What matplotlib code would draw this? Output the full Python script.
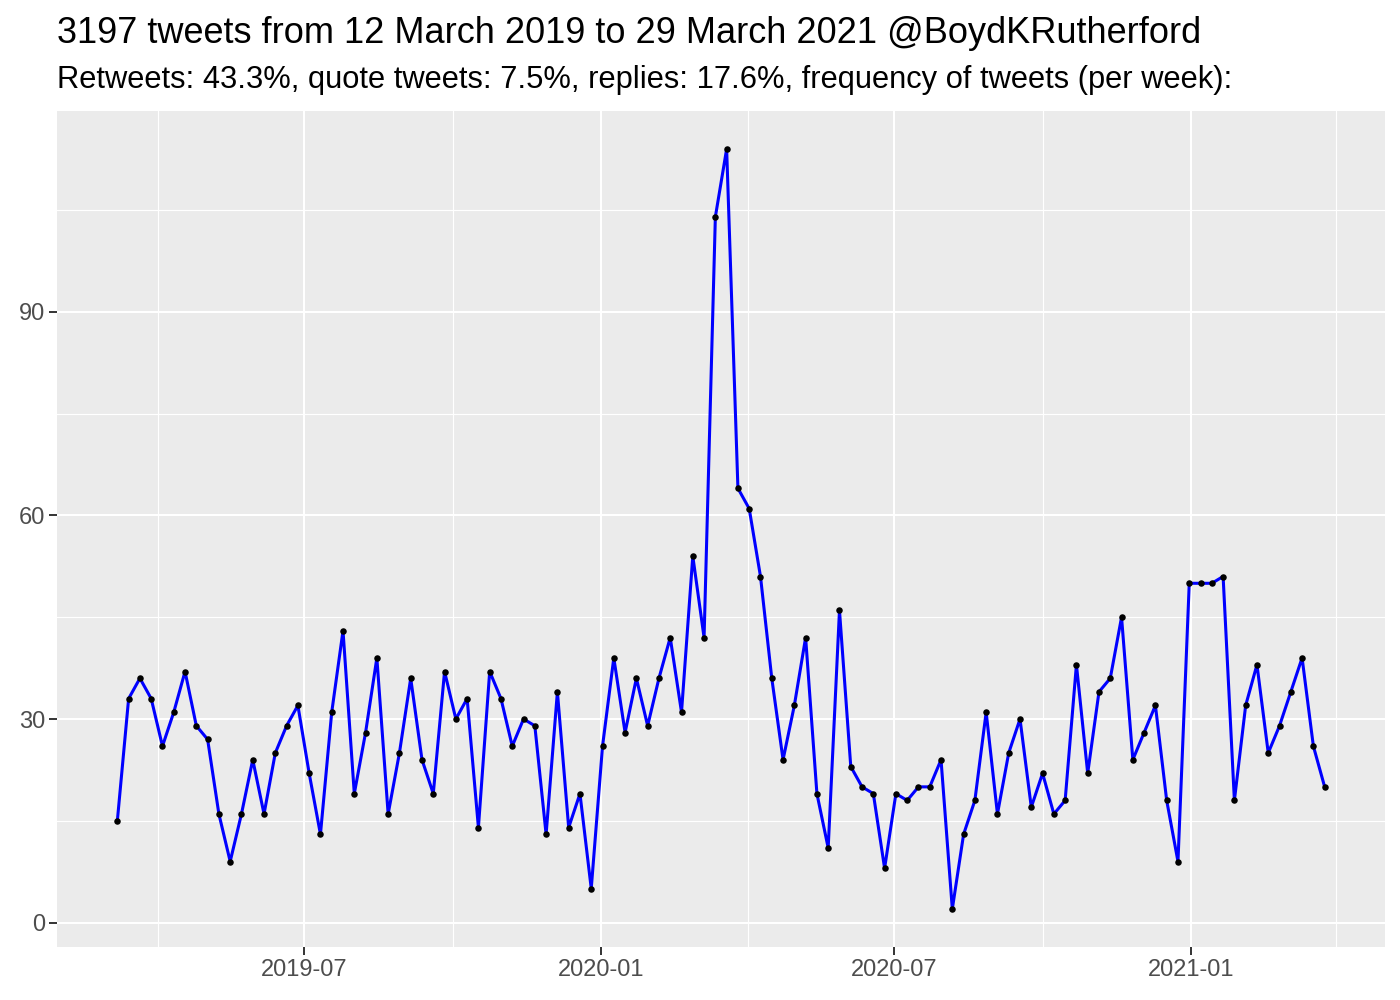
import numpy as np
import matplotlib
matplotlib.use("Agg")
import matplotlib.pyplot as plt
import matplotlib.dates as mdates

plt.rcParams['font.family'] = ['Liberation Sans', 'DejaVu Sans']

# weekly tweet counts, weeks starting 2019-03-07
start_date = '2019-03-07'
counts = [15, 33, 36, 33, 26, 31, 37, 29, 27, 16,
          9, 16, 24, 16, 25, 29, 32, 22, 13, 31,
          43, 19, 28, 39, 16, 25, 36, 24, 19, 37,
          30, 33, 14, 37, 33, 26, 30, 29, 13, 34,
          14, 19, 5, 26, 39, 28, 36, 29, 36, 42,
          31, 54, 42, 104, 114, 64, 61, 51, 36, 24,
          32, 42, 19, 11, 46, 23, 20, 19, 8, 19,
          18, 20, 20, 24, 2, 13, 18, 31, 16, 25,
          30, 17, 22, 16, 18, 38, 22, 34, 36, 45,
          24, 28, 32, 18, 9, 50, 50, 50, 51, 18,
          32, 38, 25, 29, 34, 39, 26, 20]
weeks = np.datetime64(start_date) + np.arange(len(counts)) * np.timedelta64(7, 'D')

x_major = ['2019-07-01', '2020-01-01', '2020-07-01', '2021-01-01']
x_minor = ['2019-04-01', '2019-10-01', '2020-04-01', '2020-10-01', '2021-04-01']
x_labels = ['2019-07', '2020-01', '2020-07', '2021-01']
y_major = [0, 30, 60, 90]
y_minor = [15, 45, 75, 105]

title = "3197 tweets from 12 March 2019 to 29 March 2021 @BoydKRutherford"
subtitle = "Retweets: 43.3%, quote tweets: 7.5%, replies: 17.6%, frequency of tweets (per week):"

fig = plt.figure(figsize=(14, 10), dpi=100)
ax = fig.add_axes([0.0407, 0.053, 0.9486, 0.836])
ax.set_facecolor('#EBEBEB')

xd = mdates.date2num(weeks.astype('datetime64[D]').astype(object))
ax.plot(xd, counts, color='#0000FF', lw=2.2, zorder=3)
ax.scatter(xd, counts, s=22, color='black', zorder=4, linewidths=0)

# ggplot style expansion
xr = xd.max() - xd.min()
ax.set_xlim(xd.min() - 0.05 * xr, xd.max() + 0.05 * xr)
yr = max(counts) - min(counts)
ax.set_ylim(min(counts) - 0.05 * yr, max(counts) + 0.05 * yr)

maj = [mdates.datestr2num(d) for d in x_major]
mnr = [mdates.datestr2num(d) for d in x_minor]
ax.set_xticks(maj)
ax.set_xticklabels(x_labels)
ax.set_xticks(mnr, minor=True)
ax.set_yticks(y_major)
ax.set_yticks(y_minor, minor=True)

ax.grid(which='major', color='white', lw=1.5, zorder=0)
ax.grid(which='minor', color='white', lw=0.8, zorder=0)
ax.set_axisbelow(True)
for s in ax.spines.values():
    s.set_visible(False)
ax.tick_params(which='major', length=5.5, width=1.4, color='#333333',
               labelsize=17, labelcolor='#4D4D4D', pad=3)
ax.tick_params(which='minor', length=0)

fig.text(0.041, 0.957, title, fontsize=26, va='baseline', ha='left', color='black')
fig.text(0.041, 0.912, subtitle, fontsize=22.2, va='baseline', ha='left', color='black')

fig.savefig('out.png', dpi=100)
